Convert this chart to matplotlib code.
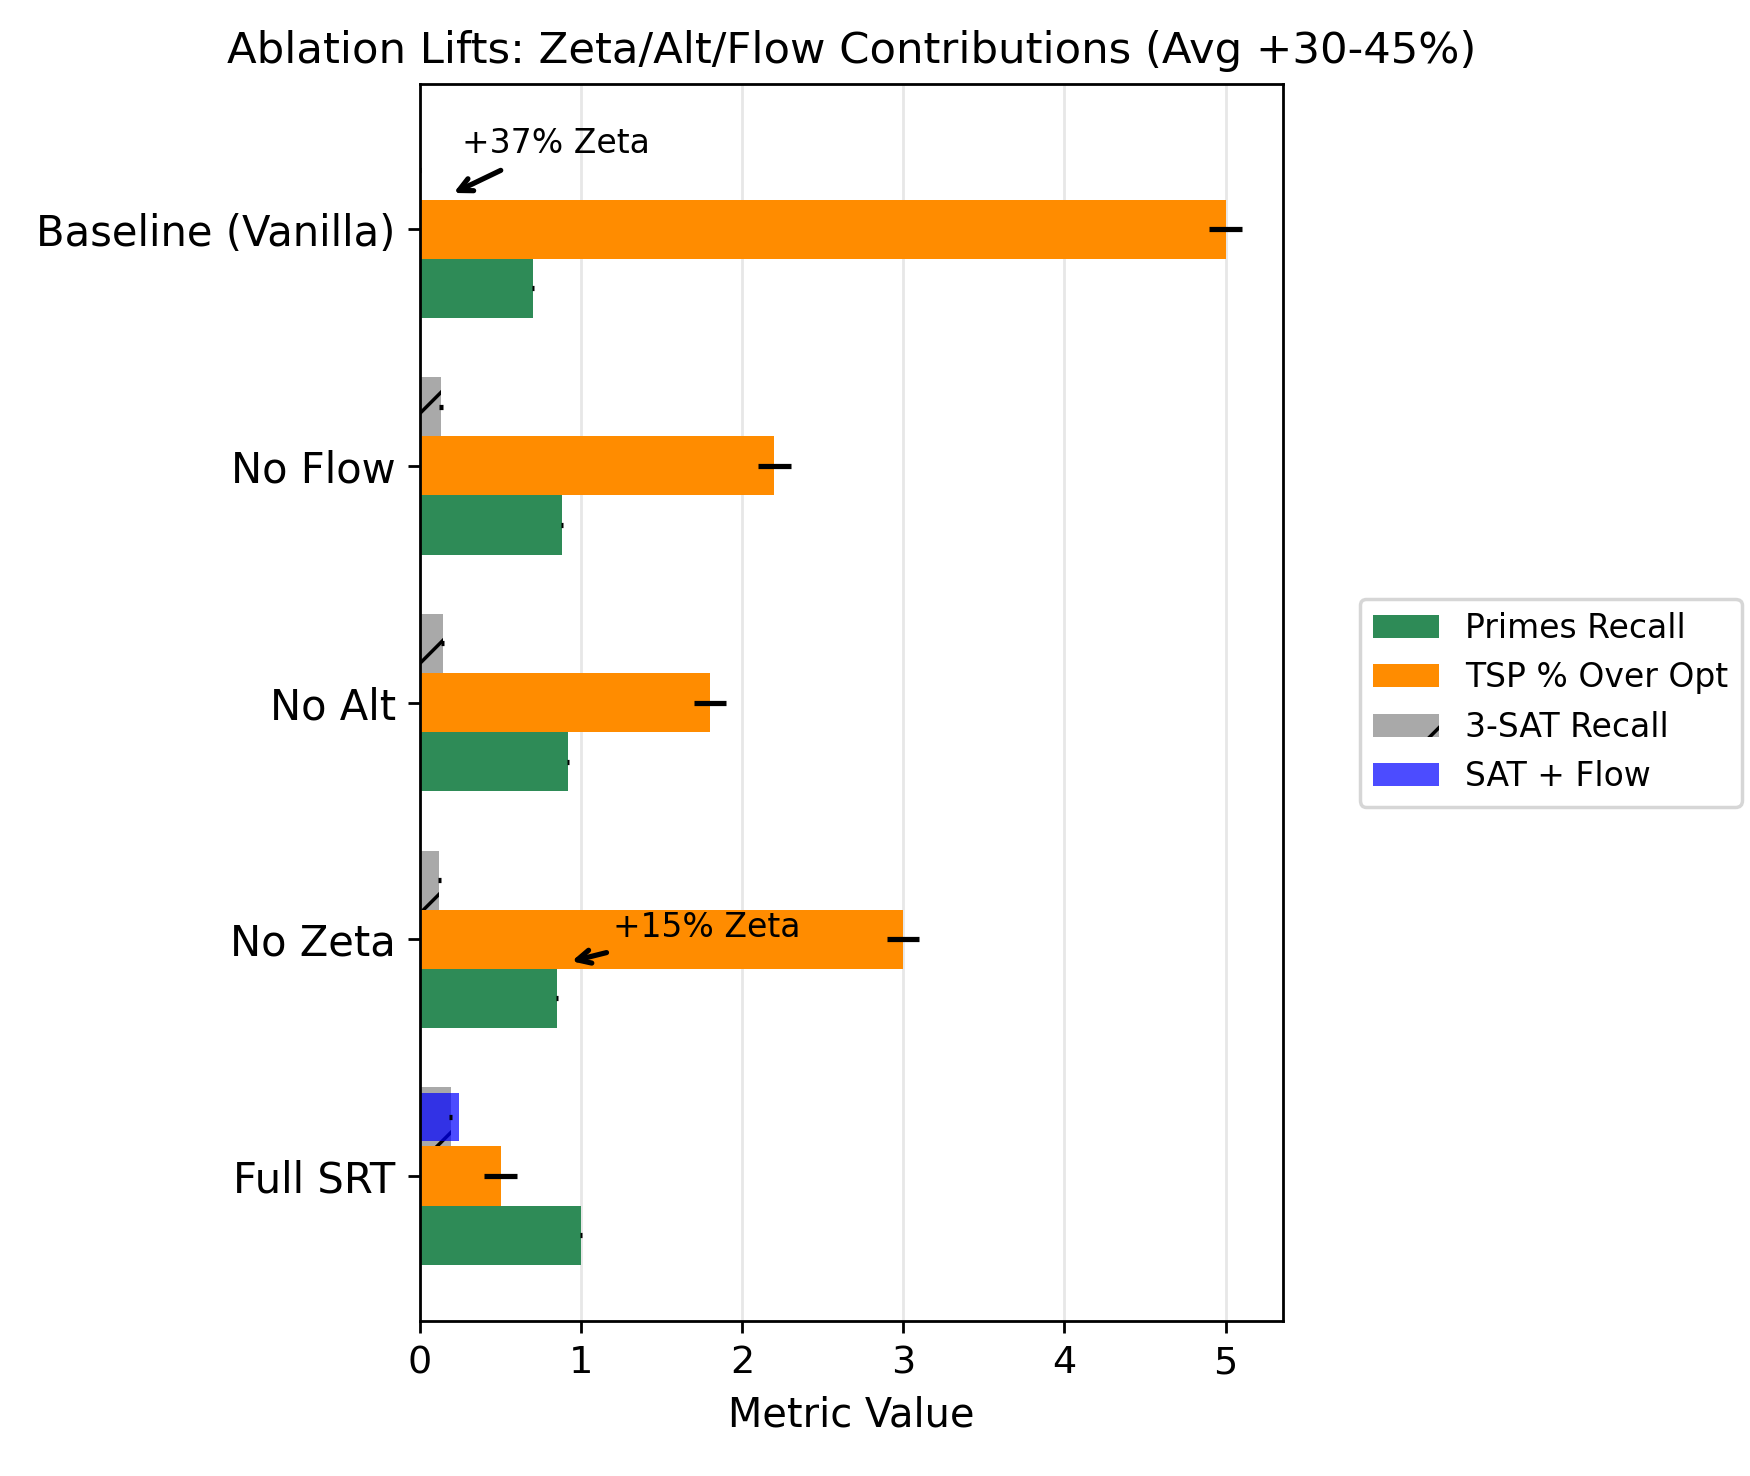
import numpy as np
import matplotlib.pyplot as plt

configs = ["Baseline (Vanilla)", "No Flow", "No Alt", "No Zeta", "Full SRT"]
primes_recall = [0.70, 0.88, 0.92, 0.85, 1.00]
primes_err = [0.005, 0.005, 0.005, 0.005, 0.005]
tsp_over_opt = [5.0, 2.2, 1.8, 3.0, 0.5]
tsp_err = [0.1, 0.1, 0.1, 0.1, 0.1]
sat_recall = [0.0, 0.13, 0.14, 0.12, 0.19]
sat_err = [0.005, 0.01, 0.01, 0.01, 0.01]
sat_flow = [0.24]

y = np.arange(len(configs))
h = 0.25

fig, ax = plt.subplots(figsize=(7, 5.904), dpi=250)
ax.barh(y + h, primes_recall, h, xerr=primes_err, color='seagreen', label='Primes Recall')
ax.barh(y, tsp_over_opt, h, xerr=tsp_err, color='darkorange', label='TSP % Over Opt')
ax.barh(y - h, sat_recall, h, xerr=sat_err, color='darkgray', hatch='/', label='3-SAT Recall')
ax.barh([y[-1] - h], sat_flow, 0.2, color='blue', alpha=0.7, label='SAT + Flow')

ax.set_yticks(y)
ax.set_yticklabels(configs, fontsize=12)
ax.tick_params(axis='x', labelsize=11)
ax.invert_yaxis()
ax.set_xlim(left=0)
ax.set_xlabel('Metric Value', fontsize=11.5)
ax.set_title('Ablation Lifts: Zeta/Alt/Flow Contributions (Avg +30-45%)', fontsize=12.5)
ax.grid(axis='x', alpha=0.3)
ax.set_axisbelow(True)

ax.annotate('+37% Zeta', xy=(0.17, -0.14), xytext=(0.26, -0.36),
            arrowprops=dict(arrowstyle='->', lw=1.5), fontsize=9.5, va='center')
ax.annotate('+15% Zeta', xy=(0.9, 3.1), xytext=(1.2, 2.95),
            arrowprops=dict(arrowstyle='->', lw=1.5), fontsize=9.5, va='center')

ax.legend(loc='center left', bbox_to_anchor=(1.07, 0.5), fontsize=9.5)
fig.subplots_adjust(left=0.24, right=0.733, top=0.943, bottom=0.105)
fig.savefig('out.png')
